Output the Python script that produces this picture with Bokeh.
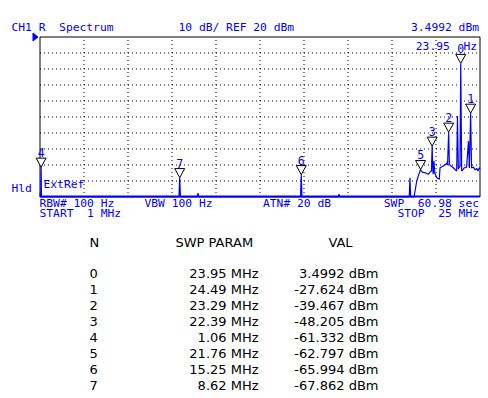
from bokeh.plotting import figure
from bokeh.layouts import column
from bokeh.models import Range1d, ColumnDataSource
from bokeh.core.properties import value
from bokeh.embed import file_html
from bokeh.resources import INLINE

# ---------------- data ----------------
start_mhz = 1.0
stop_mhz = 25.0
ref_dbm = 20.0
db_per_div = 10.0
n_div = 10
rbw_hz = 100
vbw_hz = 100
atn_db = 20
swp_sec = 60.98

marker_ids = [0, 1, 2, 3, 4, 5, 6, 7]
marker_freq = [23.95, 24.49, 23.29, 22.39, 1.06, 21.76, 15.25, 8.62]
marker_val = [3.4992, -27.624, -39.467, -48.205, -61.332, -62.797, -65.994, -67.862]

trace_freq = [1.00, 1.02, 1.04, 1.06, 1.08,
              8.58, 8.62, 8.66,
              9.58, 9.62, 9.66,
              15.21, 15.25, 15.29,
              17.27, 17.31, 17.35,
              21.14, 21.18, 21.22,
              21.40, 21.55, 21.65, 21.76, 21.84, 22.00, 22.18, 22.27, 22.35, 22.39,
              22.43, 22.45, 22.49, 22.53, 22.64, 22.78, 22.82, 23.00, 23.16, 23.18,
              23.23, 23.29, 23.33, 23.42, 23.54, 23.73, 23.77, 23.82, 23.91, 23.95,
              24.00, 24.13, 24.27, 24.37, 24.42, 24.49, 24.54, 24.64, 24.73, 24.82,
              24.89, 24.96, 25.00]
trace_dbm = [-77.5, -80.0, -80.0, -61.332, -80.0,
             -80.0, -67.862, -80.0,
             -80.0, -77.5, -80.0,
             -80.0, -65.994, -80.0,
             -80.0, -78.3, -80.0,
             -80.0, -68.0, -80.0,
             -80.0, -70.0, -66.3, -62.797, -64.4, -64.8, -65.8, -64.4, -63.8, -48.205,
             -63.8, -65.8, -57.5, -65.0, -67.9, -68.9, -61.7, -60.6, -59.4, -58.6,
             -60.0, -39.467, -59.6, -60.6, -61.7, -63.8, -29.4, -62.5, -60.6, 3.4992,
             -63.8, -61.9, -61.3, -45.0, -61.9, -27.624, -61.9, -61.3, -63.1, -62.1,
             -63.8, -61.7, -62.5]

# ---------------- layout / style ----------------
BLUE = "#0000ff"
NB = "\u00a0"
W = 486
H1 = 220
H2 = 176
px_per_mhz = 440.0 / (stop_mhz - start_mhz)
px_per_db = 160.0 / (db_per_div * n_div)
floor_dbm = ref_dbm - db_per_div * n_div

x_range = Range1d(start_mhz - 39.5 / px_per_mhz, start_mhz + (W - 39.5) / px_per_mhz)
y_range = Range1d(ref_dbm - (H1 - 36.5) / px_per_db, ref_dbm + 36.5 / px_per_db)


def cx(page_x):
    return x_range.start + page_x / px_per_mhz


def cy(page_y):
    return y_range.end - page_y / px_per_db


p = figure(width=W, height=H1, x_range=x_range, y_range=y_range,
           output_backend="svg", toolbar_location=None,
           x_axis_location=None, y_axis_location=None, min_border=0)
p.xgrid.visible = False
p.ygrid.visible = False
p.outline_line_color = None
p.background_fill_color = "white"
p.border_fill_color = "white"

# grid
gx = [start_mhz + k * (stop_mhz - start_mhz) / n_div for k in range(1, n_div)]
gy = [ref_dbm - k * db_per_div for k in range(1, n_div)]
p.segment(x0=gx, y0=[floor_dbm] * len(gx), x1=gx, y1=[ref_dbm] * len(gx),
          line_color="black", line_width=1, line_dash="1 3")
p.segment(x0=[start_mhz] * len(gy), y0=gy, x1=[stop_mhz] * len(gy), y1=gy,
          line_color="black", line_width=1, line_dash="1 3")

# frame
p.line(x=[start_mhz, start_mhz, stop_mhz, stop_mhz],
       y=[floor_dbm, ref_dbm, ref_dbm, floor_dbm], line_color="black", line_width=1)

# trace
p.line(x=trace_freq, y=trace_dbm, line_color=BLUE, line_width=1.2)
p.line(x=[start_mhz, stop_mhz], y=[floor_dbm + 0.3, floor_dbm + 0.3], line_color=BLUE, line_width=2)

# reference level pointer
p.patch(x=[start_mhz - 7 / px_per_mhz, start_mhz - 7 / px_per_mhz, start_mhz - 2 / px_per_mhz],
        y=[ref_dbm + 4 / px_per_db, ref_dbm - 4 / px_per_db, ref_dbm],
        fill_color=BLUE, line_color=BLUE)

# markers
hw = 5 / px_per_mhz
th = 9 / px_per_db
mxs = [[f - hw, f + hw, f] for f in marker_freq]
mys = [[v + th, v + th, v] for v in marker_val]
p.patches(xs=mxs, ys=mys, fill_color="white", line_color="black", line_width=1)
msrc = ColumnDataSource(dict(x=marker_freq, y=marker_val, t=[str(i) for i in marker_ids]))
p.text(x="x", y="y", text="t", source=msrc, y_offset=-14.5, text_align="center",
       text_baseline="middle", text_color=BLUE, text_font=value("DejaVu Sans Mono"),
       text_font_size="11.5px")

MONO = value("DejaVu Sans Mono")


def label(txt, page_x, page_y, align="left"):
    p.text(x=[cx(page_x)], y=[cy(page_y)], text=[txt.replace(" ", NB)], text_align=align,
           text_baseline="middle", text_color=BLUE, text_font=MONO, text_font_size="11.3px")


label("CH1 R  Spectrum", 11, 27)
label(f"{db_per_div:g} dB/ REF {ref_dbm:g} dBm", 178, 27)
label(f"{marker_val[0]:.4f} dBm", 478.5, 27, "right")
label(f"{marker_freq[0]:.2f}  Hz", 476.5, 46, "right")
label("Hld", 11, 187.5)
label("ExtRef", 43, 184)
label(f"RBW# {rbw_hz} Hz", 39, 203)
label(f"VBW {vbw_hz} Hz", 144, 203)
label(f"ATN# {atn_db} dB", 262.5, 203)
label(f"SWP  {swp_sec:.2f} sec", 478.5, 203, "right")
label(f"START  {start_mhz:g} MHz", 39, 213)
label(f"STOP  {stop_mhz:g} MHz", 478.5, 213, "right")

# ---------------- table ----------------
ROW0 = 273 - H1
t = figure(width=W, height=H2, x_range=Range1d(0, W),
           y_range=Range1d((H2 - ROW0) / 16.0, -ROW0 / 16.0),
           output_backend="svg", toolbar_location=None,
           x_axis_location=None, y_axis_location=None, min_border=0)
t.xgrid.visible = False
t.ygrid.visible = False
t.outline_line_color = None

SANS = value("DejaVu Sans")
FS = "13px"
hdr_y = (242 - 273) / 16.0
t.text(x=[89], y=[hdr_y], text=["N"], text_align="left", text_baseline="middle",
       text_font=SANS, text_font_size=FS, text_color="black")
t.text(x=[175], y=[hdr_y], text=["SWP PARAM"], text_align="left", text_baseline="middle",
       text_font=SANS, text_font_size=FS, text_color="black")
t.text(x=[340], y=[hdr_y], text=["VAL"], text_align="center", text_baseline="middle",
       text_font=SANS, text_font_size=FS, text_color="black")

rows = list(range(len(marker_ids)))
tsrc = ColumnDataSource(dict(
    y=rows,
    n=[str(i) for i in marker_ids],
    f=[f"{f:.2f} MHz" for f in marker_freq],
    v=[f"{v:.5g} dBm" for v in marker_val],
    xn=[89] * len(rows), xf=[258] * len(rows), xv=[378] * len(rows)))
t.text(x="xn", y="y", text="n", source=tsrc, text_align="left", text_baseline="middle",
       text_font=SANS, text_font_size=FS, text_color="black")
t.text(x="xf", y="y", text="f", source=tsrc, text_align="right", text_baseline="middle",
       text_font=SANS, text_font_size=FS, text_color="black")
t.text(x="xv", y="y", text="v", source=tsrc, text_align="right", text_baseline="middle",
       text_font=SANS, text_font_size=FS, text_color="black")

layout = column(p, t, spacing=0)
open("out.html", "w").write(file_html(layout, INLINE))
